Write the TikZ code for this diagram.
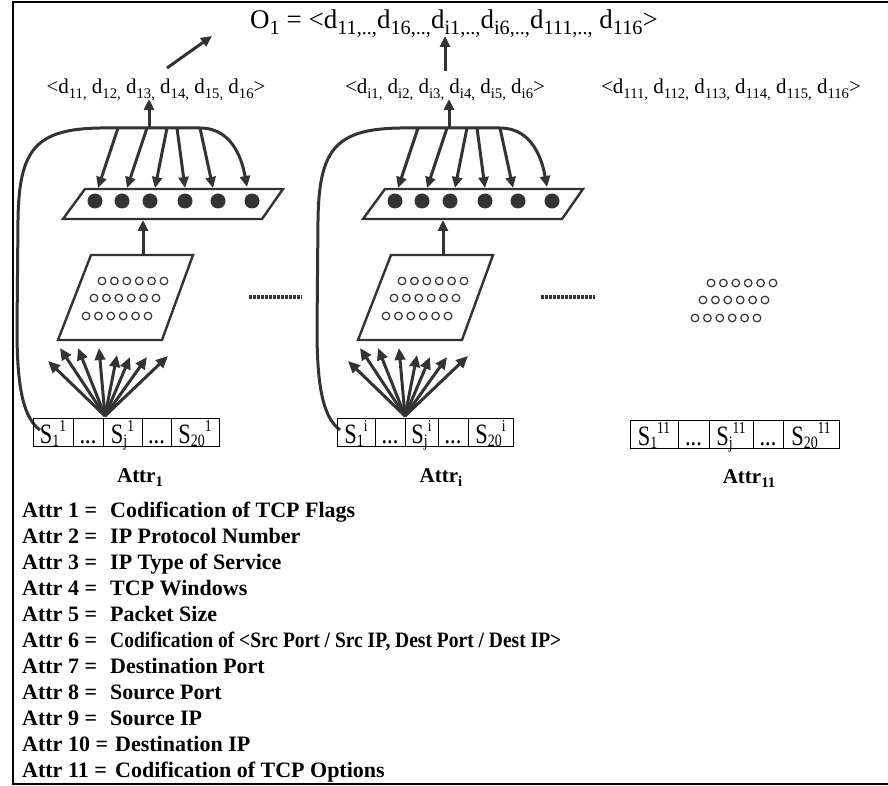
\documentclass[tikz,border=0pt]{standalone}
\usepackage{graphicx}
\usepackage{fontspec}
\setmainfont{Liberation Serif}
\usetikzlibrary{arrows.meta}
\definecolor{dg}{HTML}{333333}
\newcommand\dn[1]{\raisebox{-0.22em}{\scalebox{0.7}{#1}}}
\newcommand\dnb[1]{\raisebox{-0.22em}{\scalebox{0.75}{#1}}}
\newcommand\cdn[1]{\raisebox{-0.12em}{\scalebox{0.62}{#1}}}
\newcommand\csup[1]{\raisebox{0.4em}{\scalebox{0.6}{#1}}}
\newcommand\ctext[1]{\scalebox{0.8}[1]{#1}}
\tikzset{
  busarr/.style={draw=dg, line width=3pt, -{Triangle[length=11pt,width=10pt]}},
  fanarr/.style={draw=dg, line width=3pt, -{Triangle[length=12pt,width=10.5pt]}},
  para/.style={draw=dg, line width=2.4pt, line join=miter},
  cir/.style={draw=dg, line width=1.2pt},
  cell/.style={draw, line width=1pt, inner sep=0pt, minimum height=28pt, text height=24pt, text depth=2pt, font=\fontsize{28}{28}\selectfont},
  sublab/.style={anchor=base, inner sep=0pt, font=\fontsize{21}{24}\selectfont},
  attrlab/.style={anchor=base, inner sep=0pt, font=\bfseries\fontsize{21}{24}\selectfont},
  listline/.style={anchor=base west, inner sep=0pt, font=\bfseries\fontsize{22}{26}\selectfont},
  dotline/.style={draw=dg, line width=3.5pt, dash pattern=on 2.6pt off 1.4pt}
}
\newcommand\circles[2]{%
  \begin{scope}[xshift=#1, yshift=#2]
  \foreach \x/\y in {102/281, 94/298, 86/316}
    \foreach \k in {0,...,5}
      \draw[cir] (\x+\k*12.4, \y) circle (3.8);
  \end{scope}}
\newcommand\netcol[2]{%
  \begin{scope}[xshift=#1]
  % feedback bus from first cell to the output layer
  \coordinate (#2-bs) at (40,430);
  \coordinate (#2-be) at (247,187);
  \draw[busarr] (#2-bs) .. controls (24,418) and (17,390) .. (17,330) -- (18,220)
     .. controls (19,150) and (35,129) .. (100,128) -- (200,128)
     .. controls (235,128) and (243,165) .. (#2-be);
  \foreach \i/\sx/\ex in {1/118/98, 2/147/127, 3/167/155, 4/177/185, 5/200/213} {
    \coordinate (#2-s\i) at (\sx,128);
    \coordinate (#2-e\i) at (\ex,188);
    \draw[busarr] (#2-s\i) -- (#2-e\i);
  }
  \coordinate (#2-u0) at (149,128);
  \coordinate (#2-u1) at (149,99);
  \draw[busarr] (#2-u0) -- (#2-u1);
  % output layer
  \draw[para] (85,189) -- (283,189) -- (262,219) -- (63,219) -- cycle;
  \foreach \x in {95,122,150,185,218,252} \fill[dg] (\x,201) circle (7.5);
  % hidden layer
  \draw[para] (91,255) -- (193,255) -- (162,340) -- (58,340) -- cycle;
  \coordinate (#2-m0) at (143,255);
  \coordinate (#2-m1) at (143,220);
  \draw[busarr] (#2-m0) -- (#2-m1);
  % fan of inputs
  \coordinate (#2-fs) at (105,416);
  \foreach \j/\tx/\ty in {1/48/361, 2/60/348, 3/78/348, 4/99/348, 5/117/355, 6/130/357, 7/147/357, 8/168/356} {
    \coordinate (#2-f\j) at (\tx,\ty);
    \draw[fanarr] (#2-fs) -- (#2-f\j);
  }
  \end{scope}}
\begin{document}
\begin{tikzpicture}[x=1pt, y=-1pt]
\useasboundingbox (0,0) rectangle (888,786);
\fill[white] (0,0) rectangle (888,786);
\draw[line width=2pt] (12.5,2) rectangle (900,783.5);

% top formula
\node[anchor=base, inner sep=0pt, font=\fontsize{27}{30}\selectfont] (top) at (454,29)
  {O\dnb{1} = <d\dnb{11,..,}d\dnb{16,..,}d\dnb{i1,..,}d\dnb{i6,..,}d\dnb{111,..,} d\dnb{116}>};
\coordinate (da0) at (167,68);
\coordinate (da1) at (212,36);
\draw[busarr] (da0) -- (da1);
\coordinate (di0) at (445,71);
\coordinate (di1) at (445,36);
\draw[busarr] (di0) -- (di1);

% sub labels
\node[sublab] (o1) at (156,94) {<d\dn{11,} d\dn{12,} d\dn{13,} d\dn{14,} d\dn{15,} d\dn{16}>};
\node[sublab] (oi) at (445,94) {<d\dn{i1,} d\dn{i2,} d\dn{i3,} d\dn{i4,} d\dn{i5,} d\dn{i6}>};
\node[sublab] (o11) at (731,94) {<d\dn{111,} d\dn{112,} d\dn{113,} d\dn{114,} d\dn{115,} d\dn{116}>};

% columns
\netcol{0pt}{a}
\netcol{300pt}{b}
\circles{0pt}{0pt}
\circles{300pt}{0pt}
\circles{609pt}{-2pt}

% dotted separators
\coordinate (sep1a) at (249,297); \coordinate (sep1b) at (302,297);
\draw[dotline] (sep1a) -- (sep1b);
\coordinate (sep2a) at (541,297); \coordinate (sep2b) at (595,297);
\draw[dotline] (sep2a) -- (sep2b);

% cells attr 1
\node[cell, minimum width=40pt] (a1) at (53,432) {\ctext{S\cdn{1}\csup{1}}};
\node[cell, minimum width=30pt] (a2) at (88,432) {\ctext{...}};
\node[cell, minimum width=39pt] (a3) at (122.5,432) {\ctext{S\cdn{j}\csup{1}}};
\node[cell, minimum width=29pt] (a4) at (156.5,432) {\ctext{...}};
\node[cell, minimum width=48pt] (a5) at (195,432) {\ctext{S\cdn{20}\csup{1}}};
% cells attr i
\node[cell, minimum width=38pt] (b1) at (356,432) {\ctext{S\cdn{1}\csup{i}}};
\node[cell, minimum width=30pt] (b2) at (390,432) {\ctext{...}};
\node[cell, minimum width=33pt] (b3) at (421.5,432) {\ctext{S\cdn{j}\csup{i}}};
\node[cell, minimum width=30pt] (b4) at (453,432) {\ctext{...}};
\node[cell, minimum width=45pt] (b5) at (490.5,432) {\ctext{S\cdn{20}\csup{i}}};
% cells attr 11
\node[cell, minimum width=48pt] (c1) at (654,434) {\ctext{S\cdn{1}\csup{11}}};
\node[cell, minimum width=31pt] (c2) at (693.5,434) {\ctext{...}};
\node[cell, minimum width=44pt] (c3) at (731,434) {\ctext{S\cdn{j}\csup{11}}};
\node[cell, minimum width=30pt] (c4) at (768,434) {\ctext{...}};
\node[cell, minimum width=56pt] (c5) at (811,434) {\ctext{S\cdn{20}\csup{11}}};

% attr labels
\node[attrlab] (la) at (140,482) {Attr\dn{1}};
\node[attrlab] (lb) at (441,482) {Attr\dn{i}};
\node[attrlab] (lc) at (749,483) {Attr\dn{11}};

% legend
\node[listline] (l1) at (22,517) {\makebox[88pt][l]{Attr 1 =}Codification of TCP Flags};
\node[listline] (l2) at (22,543) {\makebox[88pt][l]{Attr 2 =}IP Protocol Number};
\node[listline] (l3) at (22,569) {\makebox[88pt][l]{Attr 3 =}IP Type of Service};
\node[listline] (l4) at (22,595) {\makebox[88pt][l]{Attr 4 =}TCP Windows};
\node[listline] (l5) at (22,621) {\makebox[88pt][l]{Attr 5 =}Packet Size};
\node[listline] (l6) at (22,647) {\makebox[88pt][l]{Attr 6 =}\scalebox{0.887}[1]{Codification of <Src Port / Src IP, Dest Port / Dest IP>}};
\node[listline] (l7) at (22,673) {\makebox[88pt][l]{Attr 7 =}Destination Port};
\node[listline] (l8) at (22,699) {\makebox[88pt][l]{Attr 8 =}Source Port};
\node[listline] (l9) at (22,725) {\makebox[88pt][l]{Attr 9 =}Source IP};
\node[listline] (l10) at (22,751) {\makebox[93pt][l]{Attr 10 =}Destination IP};
\node[listline] (l11) at (22,777) {\makebox[93pt][l]{Attr 11 =}Codification of TCP Options};
\end{tikzpicture}
\end{document}
